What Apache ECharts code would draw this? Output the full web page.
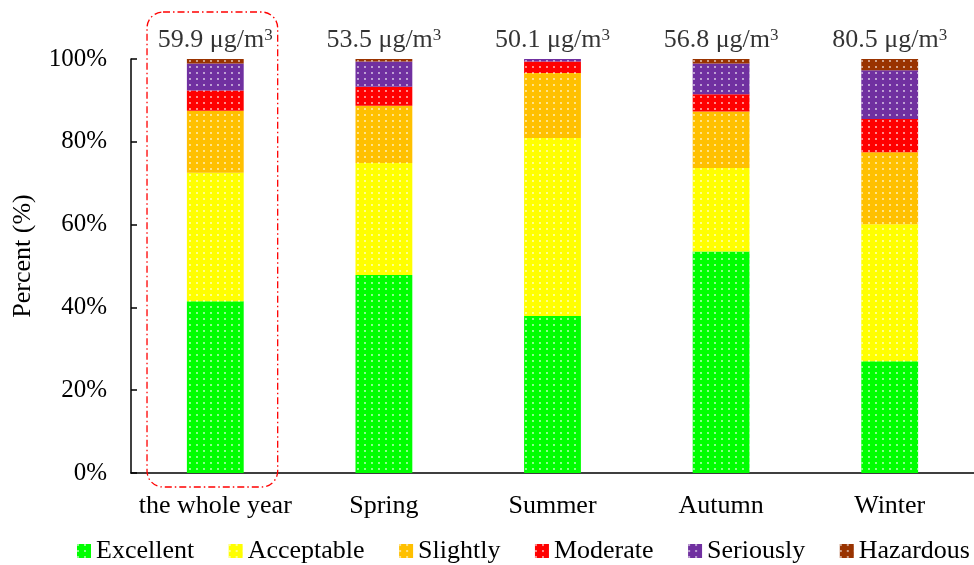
<!DOCTYPE html>
<html>
<head>
<meta charset="utf-8">
<script src="https://cdn.jsdelivr.net/npm/echarts@6/dist/echarts.min.js"></script>
<style>html,body{margin:0;padding:0;background:#fff}#c{width:974px;height:565px}</style>
</head>
<body>
<div id="c"></div>
<script>
const categories = ['the whole year', 'Spring', 'Summer', 'Autumn', 'Winter'];
const concentration = ['59.9', '53.5', '50.1', '56.8', '80.5'];
const excellent  = [41.5, 47.8, 37.9, 53.5, 27.0];
const acceptable = [31.0, 27.1, 43.0, 20.2, 33.1];
const slightly   = [15.0, 13.8, 15.7, 13.6, 17.4];
const moderate   = [4.9, 4.6, 2.8, 4.2, 8.0];
const seriously  = [6.5, 6.1, 0.6, 7.4, 11.8];
const hazardous  = [1.1, 0.6, 0.0, 1.1, 2.7];
const yTicks = [0, 20, 40, 60, 80, 100];

const seriesDefs = [
  ['Excellent', excellent, '#00FF00'],
  ['Acceptable', acceptable, '#FFFF00'],
  ['Slightly', slightly, '#FFC000'],
  ['Moderate', moderate, '#FF0000'],
  ['Seriously', seriously, '#7030A0'],
  ['Hazardous', hazardous, '#993300']
];

const FONT = '"Liberation Serif", "Times New Roman", serif';
const decal = {
  symbol: 'circle',
  symbolSize: 0.9,
  color: 'rgba(255,255,255,0.8)',
  dashArrayX: [2, 4.7],
  dashArrayY: [2, 3.3]
};

const chart = echarts.init(document.getElementById('c'), null, {renderer: 'canvas'});

const series = seriesDefs.map(([name, data, color]) => ({
  name: name,
  type: 'bar',
  stack: 'total',
  barWidth: '33.7%',
  data: data,
  itemStyle: {color: color, decal: decal},
  emphasis: {disabled: true}
}));

series.push({
  name: 'label',
  type: 'scatter',
  symbolSize: 0,
  data: categories.map(() => yTicks[yTicks.length - 1]),
  silent: true,
  label: {
    show: true,
    position: 'top',
    distance: 5,
    color: '#000',
    textBorderWidth: 0,
    formatter: (p) => '{v|' + concentration[p.dataIndex] + ' μg/m}{s|3}',
    rich: {
      v: {fontFamily: FONT, fontSize: 26, color: '#000', textBorderWidth: 0},
      s: {fontFamily: FONT, fontSize: 17, color: '#000', textBorderWidth: 0, padding: [0, 0, 10, 0]}
    }
  }
});

chart.setOption({
  animation: false,
  backgroundColor: '#fff',
  grid: {left: 131, top: 59, width: 846, height: 414, containLabel: false},
  legend: {
    data: seriesDefs.map(s => ({name: s[0], icon: 'rect'})),
    left: 77,
    top: 538,
    width: 897,
    padding: 0,
    itemWidth: 14,
    itemHeight: 14,
    itemGap: 34.5,
    textStyle: {fontFamily: FONT, fontSize: 26, color: '#000'}
  },
  xAxis: {
    type: 'category',
    data: categories,
    axisLine: {lineStyle: {color: '#000', width: 1.5}},
    axisTick: {show: false},
    axisLabel: {fontFamily: FONT, fontSize: 26, color: '#000', margin: 20, interval: 0}
  },
  yAxis: {
    type: 'value',
    min: yTicks[0],
    max: yTicks[yTicks.length - 1],
    interval: 20,
    name: 'Percent (%)',
    nameLocation: 'middle',
    nameGap: 95,
    nameTextStyle: {fontFamily: FONT, fontSize: 26, color: '#000', padding: [0, 0, 0, 20]},
    axisLine: {show: true, lineStyle: {color: '#000', width: 1.5}},
    axisTick: {show: true, inside: true, length: 6, lineStyle: {color: '#000', width: 1.5}},
    splitLine: {show: false},
    axisLabel: {fontFamily: FONT, fontSize: 25, color: '#000', margin: 24, formatter: '{value}%'}
  },
  series: series
});

// dash-dot rounded highlight box around the first category
const c0 = chart.convertToPixel({xAxisIndex: 0}, categories[0]);
const c1 = chart.convertToPixel({xAxisIndex: 0}, categories[1]);
const band = c1 - c0;
const yTop = chart.convertToPixel({yAxisIndex: 0}, 100);
const yBot = chart.convertToPixel({yAxisIndex: 0}, 0);
chart.setOption({
  graphic: [{
    type: 'rect',
    shape: {x: c0 - band * 0.405, y: yTop - 47, width: band * 0.775, height: (yBot + 14) - (yTop - 47), r: 16},
    style: {fill: 'none', stroke: '#FF0000', lineWidth: 1.3, lineDash: [7, 3, 1.5, 3]},
    silent: true,
    z: 10
  }]
});
</script>
</body>
</html>
